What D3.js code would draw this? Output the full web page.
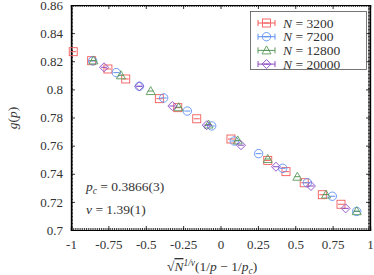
<!DOCTYPE html>
<html>
<head>
<meta charset="utf-8">
<script src="https://cdn.jsdelivr.net/npm/d3@7"></script>
<style>
  body { margin: 0; background: #fff; }
  text { font-family: "Liberation Serif", "DejaVu Serif", serif; fill: #333; }
</style>
</head>
<body>
<svg id="chart" width="374" height="275"></svg>
<script>
// series values
var x3200  = [-0.985, -0.862, -0.753, -0.634, -0.409, -0.286, -0.159, 0.070, 0.316, 0.438, 0.560, 0.681, 0.806];
var y3200  = [0.8268, 0.8204, 0.8145, 0.8074, 0.7934, 0.7870, 0.7791, 0.7647, 0.7495, 0.7415, 0.7336, 0.7251, 0.7183];
var x7200  = [-0.855, -0.697, -0.543, -0.380, -0.222, -0.059, 0.092, 0.255, 0.416, 0.581, 0.748, 0.911];
var y7200  = [0.8202, 0.8119, 0.8022, 0.7939, 0.7846, 0.7740, 0.7633, 0.7543, 0.7439, 0.7336, 0.7240, 0.7132];
var x12800 = [-0.850, -0.666, -0.467, -0.280, -0.080, 0.115, 0.316, 0.514, 0.706, 0.911];
var y12800 = [0.8206, 0.8100, 0.7988, 0.7873, 0.7750, 0.7637, 0.7505, 0.7379, 0.7252, 0.7134];
var x20000 = [-0.779, -0.543, -0.322, -0.092, 0.137, 0.371, 0.605, 0.837];
var y20000 = [0.8157, 0.8022, 0.7882, 0.7745, 0.7603, 0.7450, 0.7313, 0.7154];

var labels = ["3200", "7200", "12800", "20000"];
var xTicks = [-1, -0.75, -0.5, -0.25, 0, 0.25, 0.5, 0.75, 1];
var yTicks = [0.7, 0.72, 0.74, 0.76, 0.78, 0.8, 0.82, 0.84, 0.86];

var colors  = ["#f45b5b", "#5e8ff2", "#5a9a5a", "#8a4cc4"];
var symbols = ["square", "circle", "triangle", "diamond"];

var series = [
  {n: labels[0], xs: x3200,  ys: y3200},
  {n: labels[1], xs: x7200,  ys: y7200},
  {n: labels[2], xs: x12800, ys: y12800},
  {n: labels[3], xs: x20000, ys: y20000}
];

var L = 71, R = 370, T = 5, B = 230;
var svg = d3.select("#chart");

var x = d3.scaleLinear().domain([-1, 1]).range([L, R]);
var y = d3.scaleLinear().domain([0.7, 0.86]).range([B, T]);

// minor ticks first, then major
var xMinor = d3.range(0, 161).map(function(i){ return -1 + i * 0.0125; });
var yMinor = d3.range(0, 161).map(function(i){ return 0.7 + i * 0.001; });

function fmt(v){ return String(+v.toFixed(2)); }

var g = svg.append("g");
g.append("g").attr("transform", "translate(0," + B + ")")
  .call(d3.axisBottom(x).tickValues(xMinor).tickSize(-2).tickFormat(""));
g.append("g").attr("transform", "translate(0," + T + ")")
  .call(d3.axisTop(x).tickValues(xMinor).tickSize(-2).tickFormat(""));
g.append("g").attr("transform", "translate(" + L + ",0)")
  .call(d3.axisLeft(y).tickValues(yMinor).tickSize(-2).tickFormat(""));
g.append("g").attr("transform", "translate(" + R + ",0)")
  .call(d3.axisRight(y).tickValues(yMinor).tickSize(-2).tickFormat(""));

var xb = g.append("g").attr("transform", "translate(0," + B + ")")
  .call(d3.axisBottom(x).tickValues(xTicks).tickSize(-4).tickPadding(10).tickFormat(fmt));
g.append("g").attr("transform", "translate(0," + T + ")")
  .call(d3.axisTop(x).tickValues(xTicks).tickSize(-4).tickFormat(""));
var yl = g.append("g").attr("transform", "translate(" + L + ",0)")
  .call(d3.axisLeft(y).tickValues(yTicks).tickSize(-4).tickPadding(8).tickFormat(fmt));
g.append("g").attr("transform", "translate(" + R + ",0)")
  .call(d3.axisRight(y).tickValues(yTicks).tickSize(-4).tickFormat(""));

g.selectAll(".domain").attr("stroke", "#000").attr("stroke-width", 1.2);
g.selectAll(".tick line").attr("stroke", "#000").attr("stroke-width", 0.8);
g.selectAll(".tick text").attr("font-family", "Liberation Serif, serif")
  .attr("font-size", 13).attr("fill", "#333");

// markers
function drawMarker(sel, kind, color){
  if (kind === "square") {
    sel.append("rect").attr("x", -4).attr("y", -4).attr("width", 8).attr("height", 8);
  } else if (kind === "circle") {
    sel.append("circle").attr("r", 4.2);
  } else if (kind === "triangle") {
    sel.append("path").attr("d", "M0,-4.5L4.5,3.5L-4.5,3.5Z");
  } else {
    sel.append("path").attr("d", "M0,-4.5L4.5,0L0,4.5L-4.5,0Z");
  }
  sel.append("line").attr("x1", -3).attr("x2", 3).attr("y1", 0).attr("y2", 0);
  sel.selectAll("rect,circle,path").attr("fill", "none").attr("stroke", color).attr("stroke-width", 0.9);
  sel.selectAll("line").attr("stroke", color).attr("stroke-width", 1);
}

series.forEach(function(s, si){
  var pts = s.xs.map(function(v, i){ return [v, s.ys[i]]; });
  svg.append("g").selectAll("g").data(pts).enter().append("g")
    .attr("transform", function(d){ return "translate(" + x(d[0]) + "," + y(d[1]) + ")"; })
    .each(function(){ drawMarker(d3.select(this), symbols[si], colors[si]); });
});

// legend
var lg = svg.append("g");
lg.append("rect").attr("x", 250.5).attr("y", 11.5).attr("width", 116).attr("height", 58)
  .attr("fill", "#fff").attr("stroke", "#555").attr("stroke-width", 0.8);
series.forEach(function(s, si){
  var cy = 23 + si * 13.7;
  var row = lg.append("g");
  row.append("line").attr("x1", 258).attr("x2", 275).attr("y1", cy).attr("y2", cy)
    .attr("stroke", colors[si]).attr("stroke-width", 1);
  row.append("line").attr("x1", 258).attr("x2", 258).attr("y1", cy - 3).attr("y2", cy + 3)
    .attr("stroke", colors[si]).attr("stroke-width", 1);
  row.append("line").attr("x1", 275).attr("x2", 275).attr("y1", cy - 3).attr("y2", cy + 3)
    .attr("stroke", colors[si]).attr("stroke-width", 1);
  var m = row.append("g").attr("transform", "translate(266.5," + cy + ")");
  drawMarker(m, symbols[si], colors[si]);
  var t = row.append("text").attr("x", 283).attr("y", cy + 4.5).attr("font-size", 13.5);
  t.append("tspan").attr("font-style", "italic").text("N");
  t.append("tspan").text(" = " + s.n);
});

// annotations
var a1 = svg.append("text").attr("x", 86).attr("y", 191).attr("font-size", 13.5);
a1.append("tspan").attr("font-style", "italic").text("p");
a1.append("tspan").attr("font-style", "italic").attr("font-size", 9.5).attr("dy", 2.5).text("c");
a1.append("tspan").attr("dy", -2.5).text(" = 0.3866(3)");
var a2 = svg.append("text").attr("x", 86).attr("y", 214).attr("font-size", 13.5);
a2.append("tspan").attr("font-style", "italic").text("ν");
a2.append("tspan").text(" = 1.39(1)");

// axis titles
var xt = svg.append("text").attr("x", 167).attr("y", 271).attr("font-size", 13.5);
xt.append("tspan").text("√");
xt.append("tspan").attr("font-style", "italic").attr("text-decoration", "overline").text("N");
xt.append("tspan").attr("font-style", "italic").attr("font-size", 9.5).attr("dy", -5).text("1/ν");
xt.append("tspan").attr("dy", 5).text("(1/");
xt.append("tspan").attr("font-style", "italic").text("p");
xt.append("tspan").text(" − 1/");
xt.append("tspan").attr("font-style", "italic").text("p");
xt.append("tspan").attr("font-style", "italic").attr("font-size", 9.5).attr("dy", 2.5).text("c");
xt.append("tspan").attr("dy", -2.5).text(")");

var yt = svg.append("text").attr("transform", "translate(17,118) rotate(-90)")
  .attr("text-anchor", "middle").attr("font-size", 13.5);
yt.append("tspan").attr("font-style", "italic").text("g");
yt.append("tspan").text("(");
yt.append("tspan").attr("font-style", "italic").text("p");
yt.append("tspan").text(")");
</script>
</body>
</html>
